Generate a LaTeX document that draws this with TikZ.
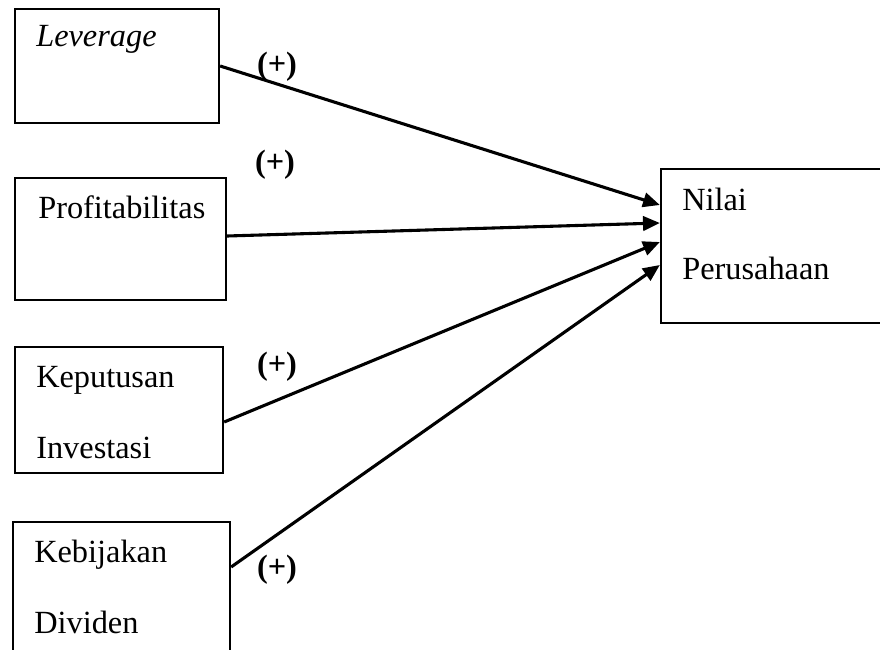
\documentclass[tikz,border=0pt]{standalone}
\usepackage{fontspec}
\setmainfont{Liberation Serif}
\usetikzlibrary{arrows.meta,positioning}

\begin{document}
\begin{tikzpicture}[
    x=0.025cm, y=-0.025cm,
    box/.style={rectangle, draw, line width=1.6pt, inner sep=0pt},
    txt/.style={inner sep=0pt, anchor=base west, font=\fontsize{23pt}{27pt}\selectfont},
    sign/.style={inner sep=0pt, font=\fontsize{23pt}{27pt}\selectfont\bfseries},
    arr/.style={-{Triangle[length=0.42cm, width=0.36cm]}, line width=2.2pt}
]
\useasboundingbox (0,0) rectangle (880,650);
\clip (0,0) rectangle (880,650);

% variable boxes
\node[box, minimum width=5.1cm, minimum height=2.85cm] (lev) at (117,66) {};
\node[box, minimum width=5.275cm, minimum height=3.05cm] (prof) at (120.5,239) {};
\node[box, minimum width=5.2cm, minimum height=3.15cm] (inv) at (119,410) {};
\node[box, minimum width=5.425cm, minimum height=3.95cm] (div) at (121.5,601) {};
\node[box, minimum width=5.975cm, minimum height=3.85cm] (nilai) at (780.5,246) {};

% texts
\node[txt] (levtxt) at (36,47) {\itshape Leverage};
\node[txt] (proftxt) at (38,218) {Profitabilitas};
\node[txt] (invtxt) at (36,387) {Keputusan};
\node[txt] (invtxtb) at (36,458) {Investasi};
\node[txt] (divtxt) at (34,562) {Kebijakan};
\node[txt] (divtxtb) at (34,633) {Dividen};
\node[txt] (niltxt) at (682,210) {Nilai};
\node[txt] (niltxtb) at (682,279) {Perusahaan};

% signs
\node[sign] (s1) at (277,67) {(+)};
\node[sign] (s2) at (275,165) {(+)};
\node[sign] (s3) at (277,367) {(+)};
\node[sign] (s4) at (277,570) {(+)};

\draw[arr] (lev.east) -- ([yshift=1.025cm]nilai.west);
\draw[arr] ([yshift=0.075cm]prof.east) -- ([yshift=0.575cm]nilai.west);
\draw[arr] ([yshift=-0.3cm]inv.east) -- ([yshift=0.1cm]nilai.west);
\draw[arr] ([yshift=0.85cm]div.east) -- ([yshift=-0.475cm]nilai.west);
\end{tikzpicture}
\end{document}
